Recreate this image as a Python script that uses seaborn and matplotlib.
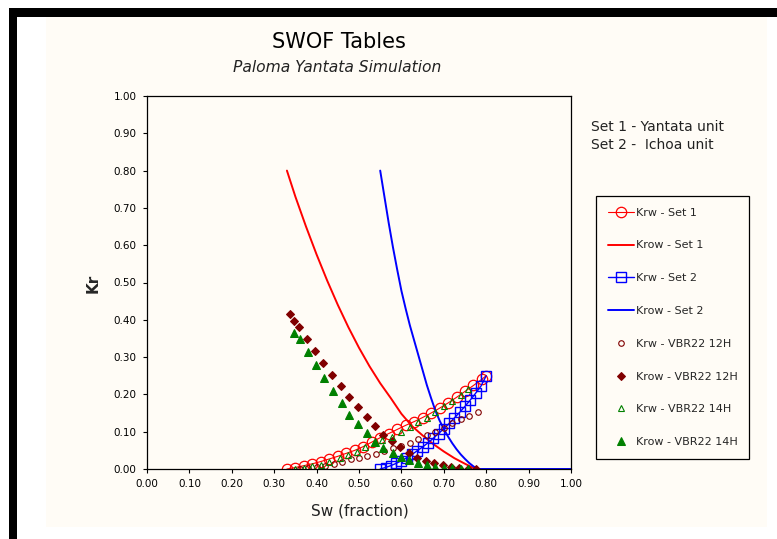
import matplotlib
matplotlib.use("Agg")
import matplotlib.pyplot as plt
import seaborn as sns
import numpy as np
from matplotlib.patches import Rectangle

# ---------------- data ----------------
krow_set1_x = [0.33, 0.35, 0.375, 0.40, 0.425, 0.45, 0.475, 0.50, 0.525, 0.55, 0.575,
               0.60, 0.625, 0.65, 0.675, 0.70, 0.725, 0.75, 0.775]
krow_set1_y = [0.80, 0.73, 0.65, 0.575, 0.505, 0.44, 0.38, 0.325, 0.275, 0.23, 0.19,
               0.148, 0.115, 0.09, 0.067, 0.047, 0.029, 0.014, 0.0]

krw_set1_x = [0.33, 0.35, 0.37, 0.39, 0.41, 0.43, 0.45, 0.47, 0.49, 0.51, 0.53, 0.55,
              0.57, 0.59, 0.61, 0.63, 0.65, 0.67, 0.69, 0.71, 0.73, 0.75, 0.77, 0.79, 0.80]
krw_set1_y = [0.000, 0.004, 0.009, 0.014, 0.020, 0.027, 0.034, 0.042, 0.050, 0.060, 0.072,
              0.084, 0.095, 0.106, 0.117, 0.127, 0.138, 0.150, 0.163, 0.177, 0.192, 0.208,
              0.224, 0.241, 0.250]

krow_set2_x = [0.55, 0.56, 0.57, 0.58, 0.59, 0.60, 0.61, 0.62, 0.63, 0.64, 0.65, 0.66,
               0.67, 0.68, 0.69, 0.70, 0.71, 0.72, 0.73, 0.74, 0.75, 0.76, 0.77, 0.78, 1.00]
krow_set2_y = [0.80, 0.73, 0.66, 0.595, 0.535, 0.478, 0.43, 0.385, 0.345, 0.305, 0.265,
               0.225, 0.19, 0.157, 0.13, 0.107, 0.087, 0.069, 0.053, 0.039, 0.027, 0.016,
               0.007, 0.0, 0.0]

krw_set2_x = [0.55, 0.5625, 0.575, 0.5875, 0.60, 0.6125, 0.625, 0.6375, 0.65, 0.6625, 0.675,
              0.6875, 0.70, 0.7125, 0.725, 0.7375, 0.75, 0.7625, 0.775, 0.7875, 0.80]
krw_set2_y = [0.000, 0.004, 0.009, 0.015, 0.022, 0.030, 0.039, 0.049, 0.059, 0.070, 0.082,
              0.095, 0.108, 0.122, 0.137, 0.152, 0.168, 0.185, 0.203, 0.222, 0.250]

krw_12h_x = [0.36, 0.38, 0.40, 0.42, 0.44, 0.46, 0.48, 0.50, 0.52, 0.54, 0.56, 0.58, 0.60,
             0.62, 0.64, 0.66, 0.68, 0.70, 0.72, 0.74, 0.76, 0.78]
krw_12h_y = [0.0, 0.002, 0.005, 0.009, 0.014, 0.020, 0.026, 0.030, 0.035, 0.041, 0.048,
             0.055, 0.062, 0.070, 0.080, 0.090, 0.100, 0.110, 0.122, 0.133, 0.143, 0.152]

krow_12h_x = [0.337, 0.347, 0.358, 0.377, 0.396, 0.415, 0.436, 0.457, 0.477, 0.498, 0.518,
              0.537, 0.557, 0.577, 0.597, 0.618, 0.637, 0.657, 0.677, 0.697, 0.717, 0.737,
              0.757, 0.775]
krow_12h_y = [0.415, 0.397, 0.381, 0.348, 0.316, 0.285, 0.252, 0.222, 0.193, 0.167, 0.140,
              0.115, 0.090, 0.076, 0.059, 0.043, 0.030, 0.022, 0.015, 0.010, 0.006, 0.003,
              0.001, 0.0]

krw_14h_x = [0.35, 0.37, 0.39, 0.41, 0.43, 0.455, 0.475, 0.495, 0.515, 0.535, 0.555, 0.578,
             0.60, 0.62, 0.64, 0.66, 0.68, 0.70, 0.72, 0.74, 0.757]
krw_14h_y = [0.0, 0.003, 0.007, 0.012, 0.020, 0.030, 0.038, 0.046, 0.058, 0.070, 0.077,
             0.085, 0.098, 0.113, 0.125, 0.138, 0.152, 0.168, 0.183, 0.198, 0.214]

krow_14h_x = [0.347, 0.361, 0.380, 0.398, 0.417, 0.438, 0.459, 0.477, 0.497, 0.518, 0.538,
              0.557, 0.580, 0.600, 0.618, 0.640, 0.660, 0.680, 0.700, 0.720, 0.740, 0.757]
krow_14h_y = [0.364, 0.348, 0.313, 0.279, 0.243, 0.209, 0.176, 0.146, 0.120, 0.096, 0.073,
              0.056, 0.043, 0.032, 0.024, 0.017, 0.010, 0.006, 0.004, 0.002, 0.001, 0.0]

ticks = [0.0, 0.1, 0.2, 0.3, 0.4, 0.5, 0.6, 0.7, 0.8, 0.9, 1.0]
tick_labels = ["0.00", "0.10", "0.20", "0.30", "0.40", "0.50", "0.60", "0.70", "0.80",
               "0.90", "1.00"]

# ---------------- figure ----------------
sns.set_style("white")
plt.rcParams['font.family'] = ['DejaVu Sans']

W, H = 777, 539
fig = plt.figure(figsize=(W / 100, H / 100), dpi=100)
fig.patch.set_facecolor("white")
cream = "#fffcf6"

def px_rect(x0, y0, x1, y1, color, z):
    fig.patches.append(Rectangle((x0 / W, 1 - y1 / H), (x1 - x0) / W, (y1 - y0) / H,
                                 transform=fig.transFigure, facecolor=color,
                                 edgecolor="none", zorder=z))

px_rect(46, 17, 767, 527, cream, -10)
px_rect(9, 8, 777, 17, "black", -9)
px_rect(9, 8, 17, 539, "black", -9)

ax = fig.add_axes([147 / W, 1 - 469 / H, (571 - 147) / W, (469 - 96) / H])
ax.set_zorder(5)
ax.set_facecolor(cream)

kw = dict(estimator=None, sort=False, errorbar=None, ax=ax)

sns.lineplot(x=krw_set1_x, y=krw_set1_y, color="#ff0000", lw=0.8, marker="o", ms=7.5,
             markerfacecolor="none", markeredgecolor="#ff0000", mew=0.9,
             label="Krw - Set 1", **kw)
sns.lineplot(x=krow_set1_x, y=krow_set1_y, color="#ff0000", lw=1.4,
             label="Krow - Set 1", **kw)
sns.lineplot(x=krw_set2_x, y=krw_set2_y, color="#0000ff", lw=1.0, marker="s", ms=6.5,
             markerfacecolor="none", markeredgecolor="#0000ff", mew=1.0,
             label="Krw - Set 2", **kw)
sns.lineplot(x=krow_set2_x, y=krow_set2_y, color="#0000ff", lw=1.4,
             label="Krow - Set 2", **kw)
sns.lineplot(x=krw_12h_x, y=krw_12h_y, color="#800000", linestyle="none", marker="o",
             ms=4, markerfacecolor="none", markeredgecolor="#800000", mew=0.8,
             label="Krw - VBR22 12H", **kw)
sns.lineplot(x=krow_12h_x, y=krow_12h_y, color="#800000", linestyle="none", marker="D",
             ms=4.5, markerfacecolor="#800000", markeredgecolor="#800000",
             label="Krow - VBR22 12H", **kw)
sns.lineplot(x=krw_14h_x, y=krw_14h_y, color="#008000", linestyle="none", marker="^",
             ms=5, markerfacecolor="none", markeredgecolor="#008000", mew=0.8,
             label="Krw - VBR22 14H", **kw)
sns.lineplot(x=krow_14h_x, y=krow_14h_y, color="#008000", linestyle="none", marker="^",
             ms=6, markerfacecolor="#008000", markeredgecolor="#008000",
             label="Krow - VBR22 14H", **kw)

ax.set_xlim(0, 1)
ax.set_ylim(0, 1)
ax.set_xticks(ticks)
ax.set_xticklabels(tick_labels)
ax.set_yticks(ticks)
ax.set_yticklabels(tick_labels)
ax.tick_params(axis="both", direction="out", length=3, width=0.8, labelsize=7.5,
               colors="black", bottom=True, left=True)
ax.tick_params(axis="x", pad=4)
ax.tick_params(axis="y", pad=4.5)
for s in ax.spines.values():
    s.set_color("black")
    s.set_linewidth(0.9)
ax.set_xlabel("")
ax.set_ylabel("")

leg = ax.legend(loc="upper left", bbox_to_anchor=(596 / W, 1 - 196 / H),
                bbox_transform=fig.transFigure, fontsize=8, frameon=True,
                fancybox=False, edgecolor="black", facecolor=cream, framealpha=1,
                handlelength=2.4, handletextpad=0.15, labelspacing=2.05,
                borderpad=1.05, borderaxespad=0)
leg.get_frame().set_linewidth(0.9)

fig.text(339 / W, 1 - 42 / H, "SWOF Tables", ha="center", va="center", fontsize=15,
         color="black")
fig.text(337 / W, 1 - 67 / H, "Paloma Yantata Simulation", ha="center", va="center",
         fontsize=11.2, style="italic", color="#222222")
fig.text(93 / W, 1 - 283 / H, "Kr", ha="center", va="center", fontsize=11,
         fontweight="bold", rotation=90)
fig.text(360 / W, 1 - 511 / H, "Sw (fraction)", ha="center", va="center", fontsize=11,
         color="#222222")
fig.text(591 / W, 1 - 127 / H, "Set 1 - Yantata unit", ha="left", va="center",
         fontsize=10, color="#222222")
fig.text(591 / W, 1 - 145 / H, "Set 2 -  Ichoa unit", ha="left", va="center",
         fontsize=10, color="#222222")

fig.savefig("out.png", dpi=100, facecolor=fig.get_facecolor())
